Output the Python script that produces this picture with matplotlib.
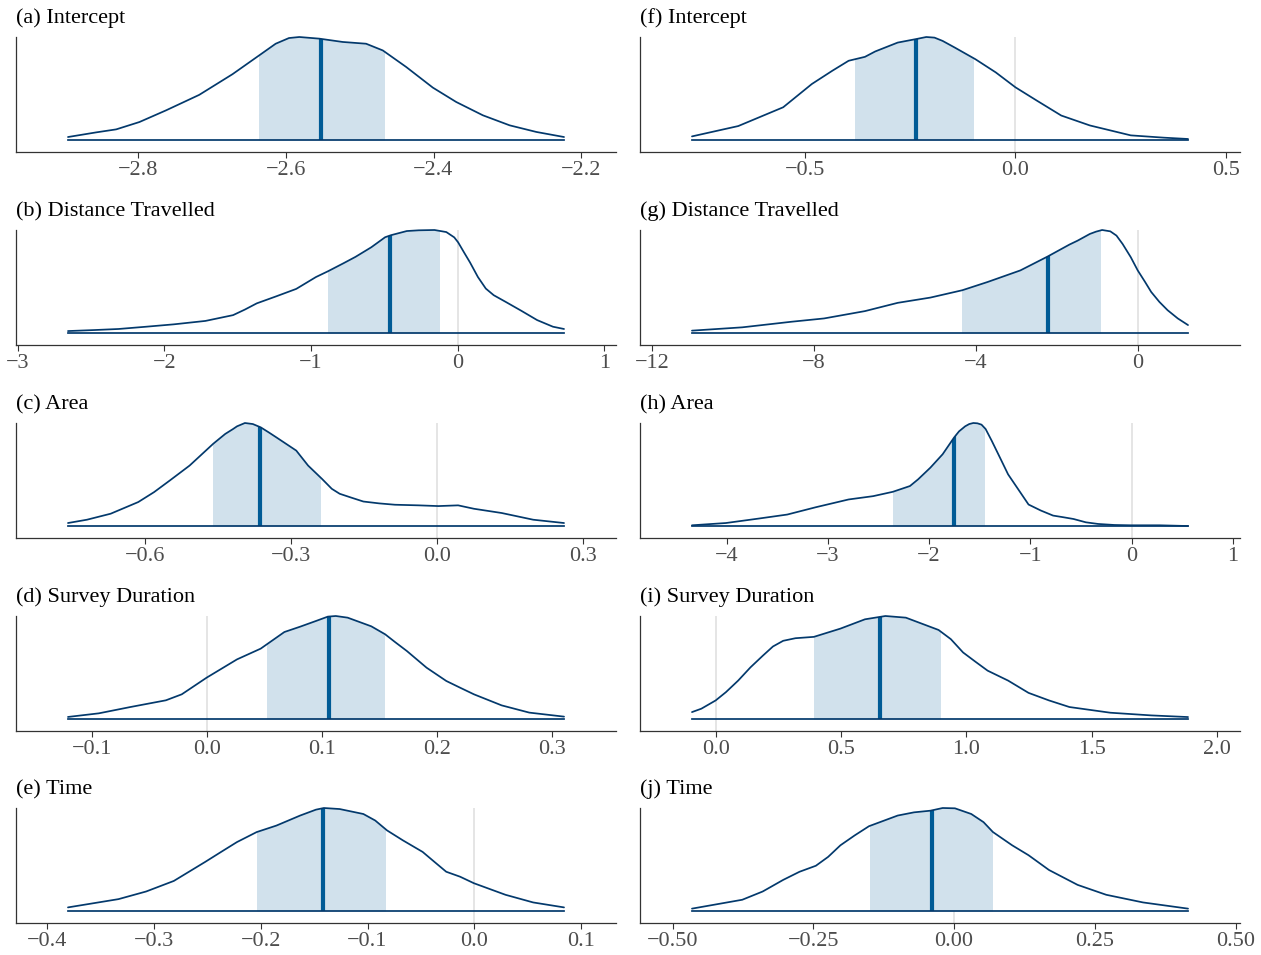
import matplotlib
matplotlib.use('Agg')
import matplotlib.pyplot as plt
from matplotlib.patches import Rectangle, Polygon
import numpy as np

plt.rcParams['font.family'] = ['Liberation Serif', 'DejaVu Serif']

# ---------------- data ----------------
titles = ["(a) Intercept", "(b) Distance Travelled", "(c) Area", "(d) Survey Duration", "(e) Time",
          "(f) Intercept", "(g) Distance Travelled", "(h) Area", "(i) Survey Duration", "(j) Time"]

x_a = [-2.8944, -2.8562, -2.8292, -2.7978, -2.7618, -2.7169, -2.6719, -2.6382, -2.6135, -2.5955, -2.5815,
       -2.5544, -2.5228, -2.4912, -2.4686, -2.437, -2.4009, -2.3693, -2.3332, -2.297, -2.2609, -2.2235]
h_a = [0.032, 0.077, 0.106, 0.177, 0.29, 0.44, 0.64, 0.81, 0.935, 0.99, 1.0,
       0.984, 0.952, 0.935, 0.87, 0.71, 0.51, 0.371, 0.242, 0.145, 0.081, 0.032]

x_b = [-2.6579, -2.4747, -2.3131, -2.1246, -1.936, -1.7205, -1.532, -1.4512, -1.3704, -1.2357, -1.101,
       -0.9663, -0.8855, -0.7778, -0.697, -0.5892, -0.4949, -0.4545, -0.3468, -0.2660, -0.1582, -0.0774,
       -0.0236, 0.0034, 0.0438, 0.0842, 0.1380, 0.1919, 0.2458, 0.3266, 0.4343, 0.5421, 0.6498, 0.7253]
h_b = [0.022, 0.032, 0.042, 0.064, 0.087, 0.12, 0.176, 0.23, 0.29, 0.359, 0.43,
       0.545, 0.60, 0.679, 0.74, 0.833, 0.93, 0.95, 0.99, 0.997, 1.0, 0.98,
       0.929, 0.88, 0.782, 0.686, 0.545, 0.433, 0.369, 0.305, 0.218, 0.128, 0.064, 0.042]

x_c = [-0.7575, -0.7186, -0.67, -0.6133, -0.5809, -0.5485, -0.508, -0.4593, -0.4350, -0.4188, -0.4107,
       -0.3945, -0.3783, -0.3621, -0.3459, -0.3297, -0.2892, -0.2649, -0.2366, -0.2163, -0.2001, -0.1758,
       -0.1515, -0.1191, -0.0867, -0.0381, 0.0024, 0.0429, 0.0753, 0.1321, 0.1969, 0.2601]
h_c = [0.032, 0.064, 0.122, 0.235, 0.331, 0.444, 0.588, 0.80, 0.894, 0.942, 0.968,
       1.0, 0.99, 0.958, 0.91, 0.86, 0.733, 0.588, 0.46, 0.363, 0.315, 0.277,
       0.24, 0.222, 0.209, 0.203, 0.196, 0.203, 0.17, 0.129, 0.064, 0.032]

x_d = [-0.1205, -0.0937, -0.0663, -0.0354, -0.0216, 0.0, 0.0264, 0.0470, 0.0676, 0.0814, 0.0951, 0.1054,
       0.1123, 0.1226, 0.1432, 0.1552, 0.1638, 0.1741, 0.1827, 0.1912, 0.2084, 0.2204, 0.2324, 0.2565,
       0.2805, 0.3107]
h_d = [0.023, 0.058, 0.119, 0.184, 0.242, 0.403, 0.58, 0.684, 0.845, 0.897, 0.952, 0.994,
       1.0, 0.984, 0.90, 0.823, 0.748, 0.661, 0.58, 0.50, 0.371, 0.306, 0.242, 0.135,
       0.065, 0.026]

x_e = [-0.3805, -0.3332, -0.3073, -0.2814, -0.2519, -0.2371, -0.2223, -0.2038, -0.1853, -0.1631, -0.1483,
       -0.1409, -0.1261, -0.1039, -0.0928, -0.0817, -0.0669, -0.0484, -0.0374, -0.0263, -0.0133, -0.0004,
       0.0292, 0.0551, 0.0840]
h_e = [0.038, 0.118, 0.192, 0.294, 0.479, 0.575, 0.67, 0.767, 0.83, 0.927, 0.984,
       1.0, 0.99, 0.942, 0.879, 0.783, 0.687, 0.575, 0.479, 0.383, 0.335, 0.272,
       0.16, 0.086, 0.038]

x_f = [-0.7695, -0.6595, -0.5525, -0.4844, -0.4358, -0.3969, -0.3580, -0.3337, -0.2802, -0.2364, -0.2121,
       -0.1926, -0.1732, -0.144, -0.0953, -0.0467, 0.0, 0.0506, 0.1089, 0.177, 0.2743, 0.3521, 0.4105]
h_f = [0.038, 0.138, 0.32, 0.545, 0.673, 0.77, 0.808, 0.86, 0.946, 0.98, 1.0,
       0.994, 0.962, 0.897, 0.785, 0.657, 0.513, 0.385, 0.24, 0.144, 0.048, 0.026, 0.013]

x_g = [-11.019, -9.776, -8.562, -7.754, -6.743, -5.934, -5.125, -4.337, -3.71, -2.901, -2.224, -1.688,
       -1.486, -1.183, -1.0311, -0.8795, -0.6773, -0.5257, -0.374, -0.1719, 0.0, 0.182, 0.3336, 0.5358,
       0.738, 0.9907, 1.2434]
h_g = [0.026, 0.058, 0.112, 0.144, 0.215, 0.295, 0.346, 0.417, 0.497, 0.609, 0.744, 0.859,
       0.897, 0.962, 0.984, 1.0, 0.987, 0.946, 0.865, 0.737, 0.609, 0.497, 0.40, 0.304,
       0.224, 0.144, 0.08]

x_h = [-4.3417, -4.0065, -3.6834, -3.4006, -3.1179, -2.7948, -2.5525, -2.3586, -2.189, -2.1082, -1.9871,
       -1.8659, -1.7528, -1.7044, -1.6438, -1.6034, -1.563, -1.5226, -1.4822, -1.4418, -1.3813, -1.3005,
       -1.2197, -1.1187, -1.0178, -0.8966, -0.7754, -0.6745, -0.5735, -0.4523, -0.3312, -0.1696, -0.0081,
       0.2746, 0.5573]
h_h = [0.01, 0.032, 0.075, 0.114, 0.185, 0.26, 0.292, 0.334, 0.39, 0.455, 0.568,
       0.698, 0.86, 0.919, 0.968, 0.99, 1.0, 0.997, 0.984, 0.942, 0.828, 0.666,
       0.503, 0.357, 0.211, 0.153, 0.104, 0.088, 0.071, 0.039, 0.023, 0.013, 0.01,
       0.01, 0.003]

x_i = [-0.0946, -0.0571, 0.0, 0.0408, 0.0897, 0.1387, 0.1876, 0.2284, 0.2692, 0.3181, 0.3915, 0.4976,
       0.5954, 0.677, 0.7586, 0.889, 0.9380, 0.9869, 1.0359, 1.0848, 1.1664, 1.248, 1.3295, 1.4111,
       1.5742, 1.7374, 1.8842]
h_i = [0.07, 0.103, 0.183, 0.263, 0.375, 0.503, 0.615, 0.705, 0.76, 0.785, 0.798, 0.878,
       0.968, 1.0, 0.984, 0.865, 0.776, 0.647, 0.558, 0.471, 0.375, 0.256, 0.183, 0.119,
       0.064, 0.038, 0.022]

x_j = [-0.4655, -0.3762, -0.3399, -0.3036, -0.2745, -0.2455, -0.2237, -0.2019, -0.1765, -0.1511, -0.1002,
       -0.0712, -0.0421, -0.0203, 0.0015, 0.0305, 0.0523, 0.069, 0.1031, 0.1322, 0.1685, 0.2193, 0.2702,
       0.3355, 0.4154]
h_j = [0.026, 0.112, 0.192, 0.304, 0.383, 0.441, 0.527, 0.639, 0.735, 0.824, 0.927,
       0.958, 0.974, 1.0, 0.997, 0.942, 0.863, 0.767, 0.639, 0.543, 0.40, 0.256, 0.16,
       0.086, 0.026]

curves_x = [x_a, x_b, x_c, x_d, x_e, x_f, x_g, x_h, x_i, x_j]
curves_h = [h_a, h_b, h_c, h_d, h_e, h_f, h_g, h_h, h_i, h_j]

interval_lo = [-2.6366, -0.8855, -0.4593, 0.0529, -0.2034, -0.3813, -4.337, -2.3586, 0.3915, -0.1496]
interval_hi = [-2.4652, -0.1232, -0.2382, 0.1552, -0.0825, -0.0982, -0.8997, -1.4499, 0.8972, 0.069]
medians = [-2.5525, -0.4599, -0.3637, 0.1061, -0.1416, -0.2364, -2.224, -1.7528, 0.6542, -0.0399]

tick_values = [[-2.8, -2.6, -2.4, -2.2], [-3, -2, -1, 0, 1], [-0.6, -0.3, 0.0, 0.3],
               [-0.1, 0.0, 0.1, 0.2, 0.3], [-0.4, -0.3, -0.2, -0.1, 0.0, 0.1],
               [-0.5, 0.0, 0.5], [-12, -8, -4, 0], [-4, -3, -2, -1, 0, 1],
               [0.0, 0.5, 1.0, 1.5, 2.0], [-0.50, -0.25, 0.00, 0.25, 0.50]]
tick_labels = [["\u22122.8", "\u22122.6", "\u22122.4", "\u22122.2"],
               ["\u22123", "\u22122", "\u22121", "0", "1"],
               ["\u22120.6", "\u22120.3", "0.0", "0.3"],
               ["\u22120.1", "0.0", "0.1", "0.2", "0.3"],
               ["\u22120.4", "\u22120.3", "\u22120.2", "\u22120.1", "0.0", "0.1"],
               ["\u22120.5", "0.0", "0.5"],
               ["\u221212", "\u22128", "\u22124", "0"],
               ["\u22124", "\u22123", "\u22122", "\u22121", "0", "1"],
               ["0.0", "0.5", "1.0", "1.5", "2.0"],
               ["\u22120.50", "\u22120.25", "0.00", "0.25", "0.50"]]

# ---------------- style ----------------
C_LINE = '#03396c'
C_FILL = '#d1e1ec'
C_MED = '#005b96'
C_ZERO = '#e3e3e3'

W, H = 1261, 955
col_left = [16, 640]
row_bottom = [152, 345, 538, 731, 923]
AX_W, AX_H = 600, 115

fig = plt.figure(figsize=(W / 100, H / 100), dpi=100)

for k in range(10):
    col = k // 5
    row = k % 5
    ax = fig.add_axes([col_left[col] / W, 1 - row_bottom[row] / H, AX_W / W, AX_H / H])
    x = np.array(curves_x[k])
    h = np.array(curves_h[k])
    rng = x[-1] - x[0]
    pad = 0.1048 * rng
    xl = (x[0] - pad, x[-1] + pad)
    ax.set_xlim(*xl)
    ax.set_ylim(-0.113, 1.0)

    if xl[0] < 0 < xl[1]:
        ax.axvline(0, color=C_ZERO, lw=1.3, zorder=0)

    verts = [(x[0], 0)] + list(zip(x, h)) + [(x[-1], 0)]
    fill = Polygon(verts, closed=True, facecolor=C_FILL, edgecolor='none', zorder=1)
    ax.add_patch(fill)
    clip_rect = Rectangle((interval_lo[k], -1), interval_hi[k] - interval_lo[k], 3,
                          transform=ax.transData)
    fill.set_clip_path(clip_rect)

    clip_poly = Polygon(verts, closed=True, transform=ax.transData)
    med_line, = ax.plot([medians[k], medians[k]], [0, 1.05], color=C_MED, lw=3.0,
                        solid_capstyle='butt', zorder=3)
    med_line.set_clip_path(clip_poly)

    ax.plot(x, h, color=C_LINE, lw=1.25, zorder=4, clip_on=False,
            solid_capstyle='round', solid_joinstyle='round')
    ax.plot([x[0], x[-1]], [0, 0], color=C_LINE, lw=1.25, zorder=4, clip_on=False)

    for s in ['top', 'right']:
        ax.spines[s].set_visible(False)
    for s in ['left', 'bottom']:
        ax.spines[s].set_color('#333333')
        ax.spines[s].set_linewidth(0.9)
    ax.set_yticks([])
    ax.set_xticks(tick_values[k])
    ax.set_xticklabels(tick_labels[k])
    ax.tick_params(axis='x', length=4, width=0.8, color='#333333', labelsize=16,
                   labelcolor='#4d4d4d', pad=2.5)
    ax.set_title(titles[k], loc='left', fontsize=16, pad=10, color='black')

fig.savefig('out.png', dpi=100)
